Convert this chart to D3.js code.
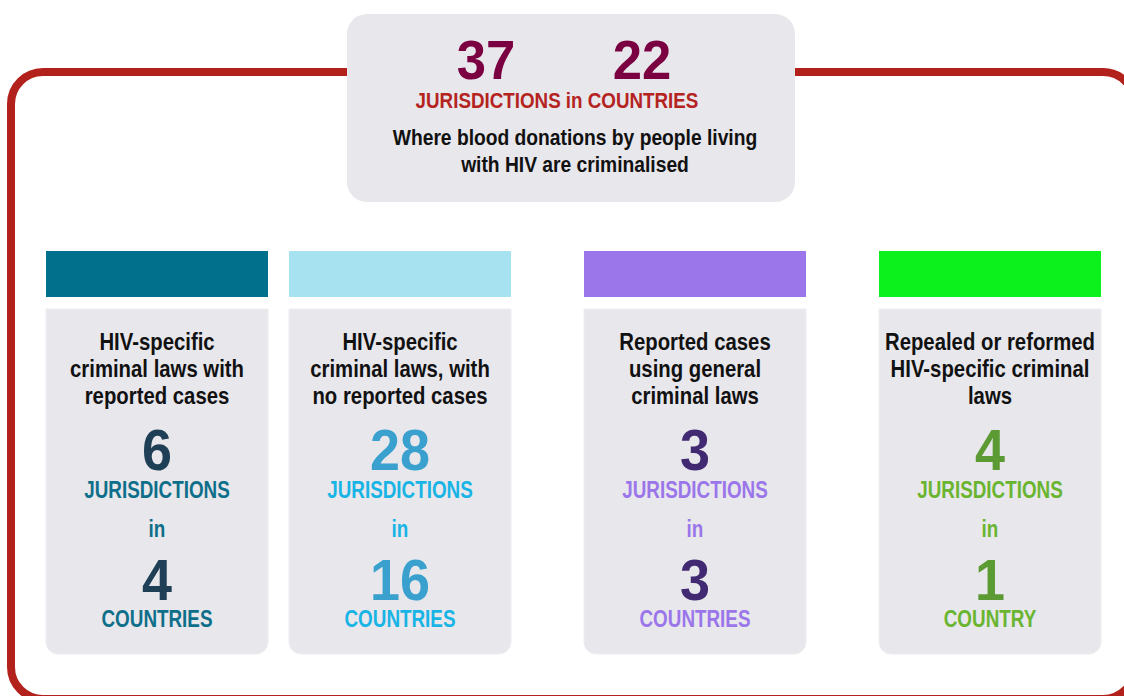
<!DOCTYPE html>
<html>
<head>
<meta charset="utf-8">
<script src="https://cdn.jsdelivr.net/npm/d3@7"></script>
<style>
  html, body { margin: 0; padding: 0; background: #fff; }
  svg { display: block; }
  text { font-family: "Liberation Sans", Arial, sans-serif; font-weight: bold; }
</style>
</head>
<body>
<svg id="chart" width="1124" height="696"></svg>
<script>
// ---- data ----
const headlineNumbers = [37, 22];
const headlineLabels = ["JURISDICTIONS", "in", "COUNTRIES"];
const headlineText = ["Where blood donations by people living", "with HIV are criminalised"];

const categories = [
  "HIV-specific criminal laws with reported cases",
  "HIV-specific criminal laws, with no reported cases",
  "Reported cases using general criminal laws",
  "Repealed or reformed HIV-specific criminal laws"
];
const categoryTitleLines = [
  ["HIV-specific", "criminal laws with", "reported cases"],
  ["HIV-specific", "criminal laws, with", "no reported cases"],
  ["Reported cases", "using general", "criminal laws"],
  ["Repealed or reformed", "HIV-specific criminal", "laws"]
];
const jurisdictions = [6, 28, 3, 4];
const countries = [4, 16, 3, 1];
const countryLabels = ["COUNTRIES", "COUNTRIES", "COUNTRIES", "COUNTRY"];

// ---- styles ----
const barColors = ["#00708c", "#a7e2f0", "#9b76ea", "#0cf01c"];
const numberColors = ["#1e3f55", "#3aa1cf", "#422a73", "#5c9a34"];
const labelColors = ["#0e6f8a", "#18b4e6", "#9b76ea", "#6ab530"];
const panelFill = "#e8e7ec";
const frameColor = "#b2211c";

const svg = d3.select("#chart");

// condensed text helper (horizontal squeeze of a bold sans)
function ntext(sel, x, y, size, color, str, sx, cls) {
  return sel.append("text")
    .attr("class", cls || null)
    .attr("transform", `translate(${x},${y}) scale(${sx},1)`)
    .attr("text-anchor", "middle")
    .attr("font-size", size)
    .attr("fill", color)
    .text(str);
}

// Outer red frame
svg.append("rect")
  .attr("x", 11).attr("y", 72)
  .attr("width", 1124).attr("height", 627)
  .attr("rx", 32).attr("ry", 32)
  .attr("fill", "none")
  .attr("stroke", frameColor)
  .attr("stroke-width", 8);

// Headline box
const hb = svg.append("g");
hb.append("rect")
  .attr("x", 347).attr("y", 14)
  .attr("width", 448).attr("height", 188)
  .attr("rx", 20).attr("ry", 20)
  .attr("fill", panelFill);

const headX = d3.scalePoint().domain(headlineNumbers.map((d, i) => i)).range([486, 642]);
headlineNumbers.forEach((d, i) => ntext(hb, headX(i), 79, 56, "#7a0041", d, 0.94, "hnum"));

ntext(hb, 557, 108, 22.5, "#b5231f", headlineLabels.join(" "), 0.835);

headlineText.forEach((t, i) => ntext(hb, 575, 145 + i * 27, 22, "#111", t, 0.875, "hdesc"));

// Cards
const cardX = d3.scaleOrdinal().domain(categories).range([46, 289, 584, 879]);
const cardW = 222;
const barTop = 251, barH = 46;
const panelTop = 309, panelBottom = 654, r = 12;

function panelPath(x) {
  const p = d3.path();
  p.moveTo(x, panelTop);
  p.lineTo(x + cardW, panelTop);
  p.lineTo(x + cardW, panelBottom - r);
  p.arcTo(x + cardW, panelBottom, x + cardW - r, panelBottom, r);
  p.lineTo(x + r, panelBottom);
  p.arcTo(x, panelBottom, x, panelBottom - r, r);
  p.closePath();
  return p.toString();
}

const cards = svg.selectAll("g.card")
  .data(categories)
  .join("g")
  .attr("class", "card")
  .attr("transform", d => `translate(${cardX(d)},0)`);

cards.append("rect")
  .attr("x", 0).attr("y", barTop)
  .attr("width", cardW).attr("height", barH)
  .attr("fill", (d, i) => barColors[i]);

cards.append("path")
  .attr("d", panelPath(0))
  .attr("fill", panelFill)
  .attr("stroke", "#eeedf1")
  .attr("stroke-width", 1);

const cx = cardW / 2;

cards.each(function (d, i) {
  const g = d3.select(this);
  categoryTitleLines[i].forEach((t, j) => ntext(g, cx, 350 + j * 27, 23.5, "#111", t, 0.865, "title"));
  ntext(g, cx, 470, 58, numberColors[i], jurisdictions[i], 0.93);
  ntext(g, cx, 498, 23, labelColors[i], headlineLabels[0], 0.82);
  ntext(g, cx, 537, 23, labelColors[i], headlineLabels[1], 0.82);
  ntext(g, cx, 600, 58, numberColors[i], countries[i], 0.93);
  ntext(g, cx, 627, 23, labelColors[i], countryLabels[i], 0.82);
});
</script>
</body>
</html>
